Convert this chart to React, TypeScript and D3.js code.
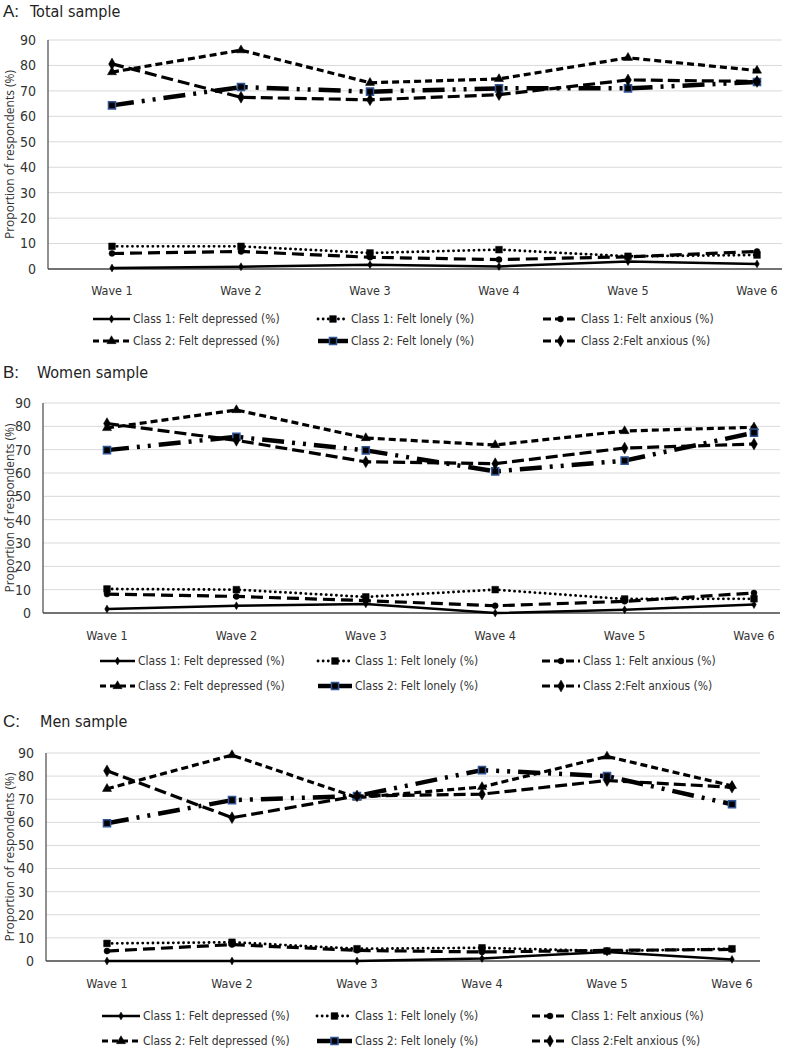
import React from "react";
import * as d3 from "d3";

const waves = ["Wave 1", "Wave 2", "Wave 3", "Wave 4", "Wave 5", "Wave 6"];
const yTicks = [0, 10, 20, 30, 40, 50, 60, 70, 80, 90];
const seriesNames = [
  "Class 1: Felt depressed (%)",
  "Class 1: Felt lonely (%)",
  "Class 1: Felt anxious (%)",
  "Class 2: Felt depressed (%)",
  "Class 2: Felt lonely (%)",
  "Class 2:Felt anxious (%)",
];

// Panel A: Total sample
const totalC1Depressed = [0.4, 0.9, 1.7, 1.0, 2.9, 2.0];
const totalC1Lonely = [8.9, 8.9, 6.3, 7.6, 5.0, 5.5];
const totalC1Anxious = [6.1, 6.9, 4.6, 3.7, 4.8, 6.9];
const totalC2Depressed = [77.4, 86.0, 73.2, 74.7, 83.0, 78.0];
const totalC2Lonely = [64.3, 71.5, 69.7, 71.0, 71.0, 73.5];
const totalC2Anxious = [80.6, 67.5, 66.5, 68.5, 74.3, 73.7];

// Panel B: Women sample
const womenC1Depressed = [1.7, 3.1, 3.9, 0.0, 1.4, 3.6];
const womenC1Lonely = [10.3, 10.0, 6.9, 10.0, 6.0, 6.1];
const womenC1Anxious = [8.1, 7.1, 5.3, 3.1, 5.0, 8.6];
const womenC2Depressed = [79.3, 87.0, 75.0, 72.0, 78.0, 79.6];
const womenC2Lonely = [69.8, 75.5, 69.7, 60.7, 65.3, 77.3];
const womenC2Anxious = [81.2, 74.0, 64.8, 64.0, 70.7, 72.4];

// Panel C: Men sample
const menC1Depressed = [0.0, 0.0, 0.0, 1.1, 3.9, 0.7];
const menC1Lonely = [7.6, 8.1, 5.3, 5.7, 4.3, 5.3];
const menC1Anxious = [4.3, 7.1, 4.6, 3.9, 4.6, 5.0];
const menC2Depressed = [74.5, 89.1, 70.7, 75.3, 88.5, 75.8];
const menC2Lonely = [59.6, 69.6, 71.4, 82.6, 80.0, 67.8];
const menC2Anxious = [82.3, 62.0, 71.4, 72.2, 78.1, 75.2];

type Style = {
  width: number;
  dash: string;
  cap: "butt" | "round";
  symbol: any;
  size: number;
  mStroke: string;
  legendDash: string;
  legendWidth: number;
};

const styles: Style[] = [
  { width: 2.5, dash: "", cap: "butt", symbol: d3.symbolDiamond, size: 18, mStroke: "#000", legendDash: "", legendWidth: 2.5 },
  { width: 2.8, dash: "0.1,5", cap: "round", symbol: d3.symbolSquare, size: 45, mStroke: "#000", legendDash: "0.1,5", legendWidth: 2.8 },
  { width: 3.2, dash: "12,6", cap: "butt", symbol: d3.symbolCircle, size: 28, mStroke: "#000", legendDash: "8,4", legendWidth: 3.2 },
  { width: 3.2, dash: "7,4", cap: "butt", symbol: d3.symbolTriangle, size: 36, mStroke: "#000", legendDash: "6,4", legendWidth: 3.2 },
  { width: 4.5, dash: "22,8,3,8,3,8", cap: "butt", symbol: d3.symbolSquare, size: 50, mStroke: "#2f5597", legendDash: "", legendWidth: 4.5 },
  { width: 3.2, dash: "12,5", cap: "butt", symbol: d3.symbolDiamond, size: 40, mStroke: "#000", legendDash: "8,4", legendWidth: 3.2 },
];

type PanelCfg = {
  letter: string;
  title: string;
  titleY: number;
  titleX: number;
  top: number;
  bottom: number;
  axisX: number;
  right: number;
  x1: number;
  x6: number;
  labelY: number;
  legendY: number[];
  legendCols: number[][];
  series: number[][];
};

const panels: PanelCfg[] = [
  {
    letter: "A:", title: "Total sample", titleY: 17, titleX: 30,
    top: 40, bottom: 269, axisX: 48, right: 782, x1: 112, x6: 757, labelY: 291,
    legendY: [319, 341], legendCols: [[93, 130], [318, 348], [543, 578]],
    series: [totalC1Depressed, totalC1Lonely, totalC1Anxious, totalC2Depressed, totalC2Lonely, totalC2Anxious],
  },
  {
    letter: "B:", title: "Women sample", titleY: 378, titleX: 37,
    top: 403, bottom: 613, axisX: 43, right: 780, x1: 107, x6: 754, labelY: 636,
    legendY: [661, 686], legendCols: [[100, 135], [318, 352], [542, 580]],
    series: [womenC1Depressed, womenC1Lonely, womenC1Anxious, womenC2Depressed, womenC2Lonely, womenC2Anxious],
  },
  {
    letter: "C:", title: "Men sample", titleY: 727, titleX: 40,
    top: 753, bottom: 961, axisX: 46, right: 760, x1: 107, x6: 732, labelY: 984,
    legendY: [1016, 1041], legendCols: [[102, 140], [317, 352], [532, 568]],
    series: [menC1Depressed, menC1Lonely, menC1Anxious, menC2Depressed, menC2Lonely, menC2Anxious],
  },
];

const FONT = "'Liberation Sans Narrow', 'DejaVu Sans Condensed', 'Liberation Sans', sans-serif";

function Panel({ p }: { p: PanelCfg }) {
  const y = d3.scaleLinear().domain([0, 90]).range([p.bottom, p.top]);
  const x = d3.scalePoint<string>().domain(waves).range([p.x1, p.x6]);
  const line = d3
    .line<number>()
    .x((_, i) => x(waves[i]) as number)
    .y((v) => y(v));
  const midY = (p.top + p.bottom) / 2;
  return (
    <g>
      <text x={3} y={p.titleY} fontFamily="'Liberation Sans', Arial, sans-serif" fontSize={17} fill="#222">
        {p.letter}
      </text>
      <text x={p.titleX} y={p.titleY} fontFamily={FONT} fontSize={16} fill="#222">
        {p.title}
      </text>
      {yTicks.map((t) => (
        <g key={t}>
          {t > 0 && (
            <line x1={p.axisX} x2={p.right} y1={y(t)} y2={y(t)} stroke="#d9d9d9" strokeWidth={1} />
          )}
          <text x={p.axisX - 12} y={y(t)} dy="0.35em" textAnchor="end" fontFamily={FONT} fontSize={14} fill="#333">
            {t}
          </text>
        </g>
      ))}
      <line x1={p.axisX} x2={p.axisX} y1={p.top} y2={p.bottom} stroke="#555" strokeWidth={1.3} />
      <line x1={p.axisX} x2={p.right} y1={p.bottom} y2={p.bottom} stroke="#444" strokeWidth={1.5} />
      <text
        transform={`translate(10,${midY}) rotate(-90)`}
        textAnchor="middle"
        dy="0.35em"
        fontFamily="'Open Sans', sans-serif"
        fontSize={12}
        fill="#333"
      >
        Proportion of respondents (%)
      </text>
      {waves.map((w) => (
        <text key={w} x={x(w)} y={p.labelY} dy="0.35em" textAnchor="middle" fontFamily={FONT} fontSize={12.5} fill="#333">
          {w}
        </text>
      ))}
      {p.series.map((vals, si) => {
        const s = styles[si];
        const sym = d3.symbol().type(s.symbol).size(s.size)();
        return (
          <g key={si}>
            <path
              d={line(vals) || ""}
              fill="none"
              stroke="#000"
              strokeWidth={s.width}
              strokeDasharray={s.dash || undefined}
              strokeLinecap={s.cap}
              strokeLinejoin="round"
            />
            {vals.map((v, i) => (
              <path
                key={i}
                d={sym || ""}
                transform={`translate(${x(waves[i])},${y(v)})`}
                fill="#000"
                stroke={s.mStroke}
                strokeWidth={si === 4 ? 1.5 : 0.5}
              />
            ))}
          </g>
        );
      })}
      {seriesNames.map((name, si) => {
        const s = styles[si];
        const row = si < 3 ? 0 : 1;
        const col = si % 3;
        const [lx0, lx1] = p.legendCols[col];
        const ly = p.legendY[row];
        const sym = d3.symbol().type(s.symbol).size(s.size)();
        return (
          <g key={name}>
            <line
              x1={lx0}
              x2={lx1}
              y1={ly}
              y2={ly}
              stroke="#000"
              strokeWidth={s.legendWidth}
              strokeDasharray={s.legendDash || undefined}
              strokeLinecap={s.cap}
            />
            <path
              d={sym || ""}
              transform={`translate(${(lx0 + lx1) / 2},${ly})`}
              fill="#000"
              stroke={s.mStroke}
              strokeWidth={si === 4 ? 1.5 : 0.5}
            />
            <text x={lx1 + 3} y={ly} dy="0.35em" fontFamily={FONT} fontSize={12} fill="#333">
              {name}
            </text>
          </g>
        );
      })}
    </g>
  );
}

export default function App() {
  return (
    <svg
      width={786}
      height={1050}
      style={{ position: "absolute", left: 0, top: 0, background: "#fff" }}
    >
      <rect width={786} height={1050} fill="#fff" />
      {panels.map((p) => (
        <Panel key={p.letter} p={p} />
      ))}
    </svg>
  );
}
